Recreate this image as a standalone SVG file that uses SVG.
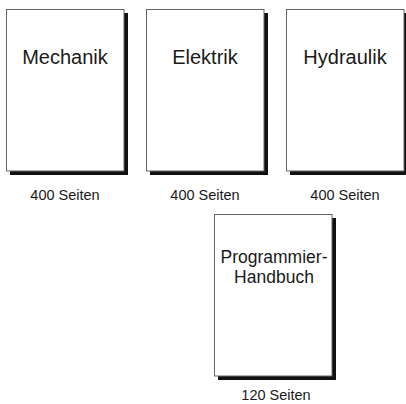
<svg xmlns="http://www.w3.org/2000/svg" width="406" height="404" viewBox="0 0 406 404">
<style>
.shadow{fill:#111}
.page{fill:#fff;stroke:#666;stroke-width:1}
.title{font-family:"Liberation Sans",Arial,sans-serif;font-size:20px;fill:#1a1a1a;text-anchor:middle}
.title2{font-family:"Liberation Sans",Arial,sans-serif;font-size:17.5px;fill:#1a1a1a;text-anchor:middle}
.label{font-family:"Liberation Sans",Arial,sans-serif;font-size:14.5px;fill:#1a1a1a;text-anchor:middle}
</style>
<rect width="406" height="404" fill="#fff"/>
<g id="mechanik">
<rect class="shadow" x="10" y="13" width="118" height="162"/>
<rect class="page" x="6.5" y="9.5" width="117.5" height="161.5"/>
<text class="title" x="65" y="64">Mechanik</text>
<text class="label" x="65" y="200">400 Seiten</text>
</g>
<g id="elektrik">
<rect class="shadow" x="150" y="13" width="118" height="162"/>
<rect class="page" x="146.5" y="9.5" width="117.5" height="161.5"/>
<text class="title" x="205" y="64">Elektrik</text>
<text class="label" x="205" y="200">400 Seiten</text>
</g>
<g id="hydraulik">
<rect class="shadow" x="290" y="13" width="118" height="162"/>
<rect class="page" x="286.5" y="9.5" width="117.5" height="161.5"/>
<text class="title" x="345" y="64">Hydraulik</text>
<text class="label" x="345" y="200">400 Seiten</text>
</g>
<g id="programmierhandbuch">
<rect class="shadow" x="218" y="218" width="118" height="162"/>
<rect class="page" x="214.5" y="214.5" width="117.5" height="161.5"/>
<text class="title2" x="274" y="263.2">Programmier-</text>
<text class="title2" x="274" y="283">Handbuch</text>
<text class="label" x="276" y="400">120 Seiten</text>
</g>
<g id="connectors"/>
</svg>
